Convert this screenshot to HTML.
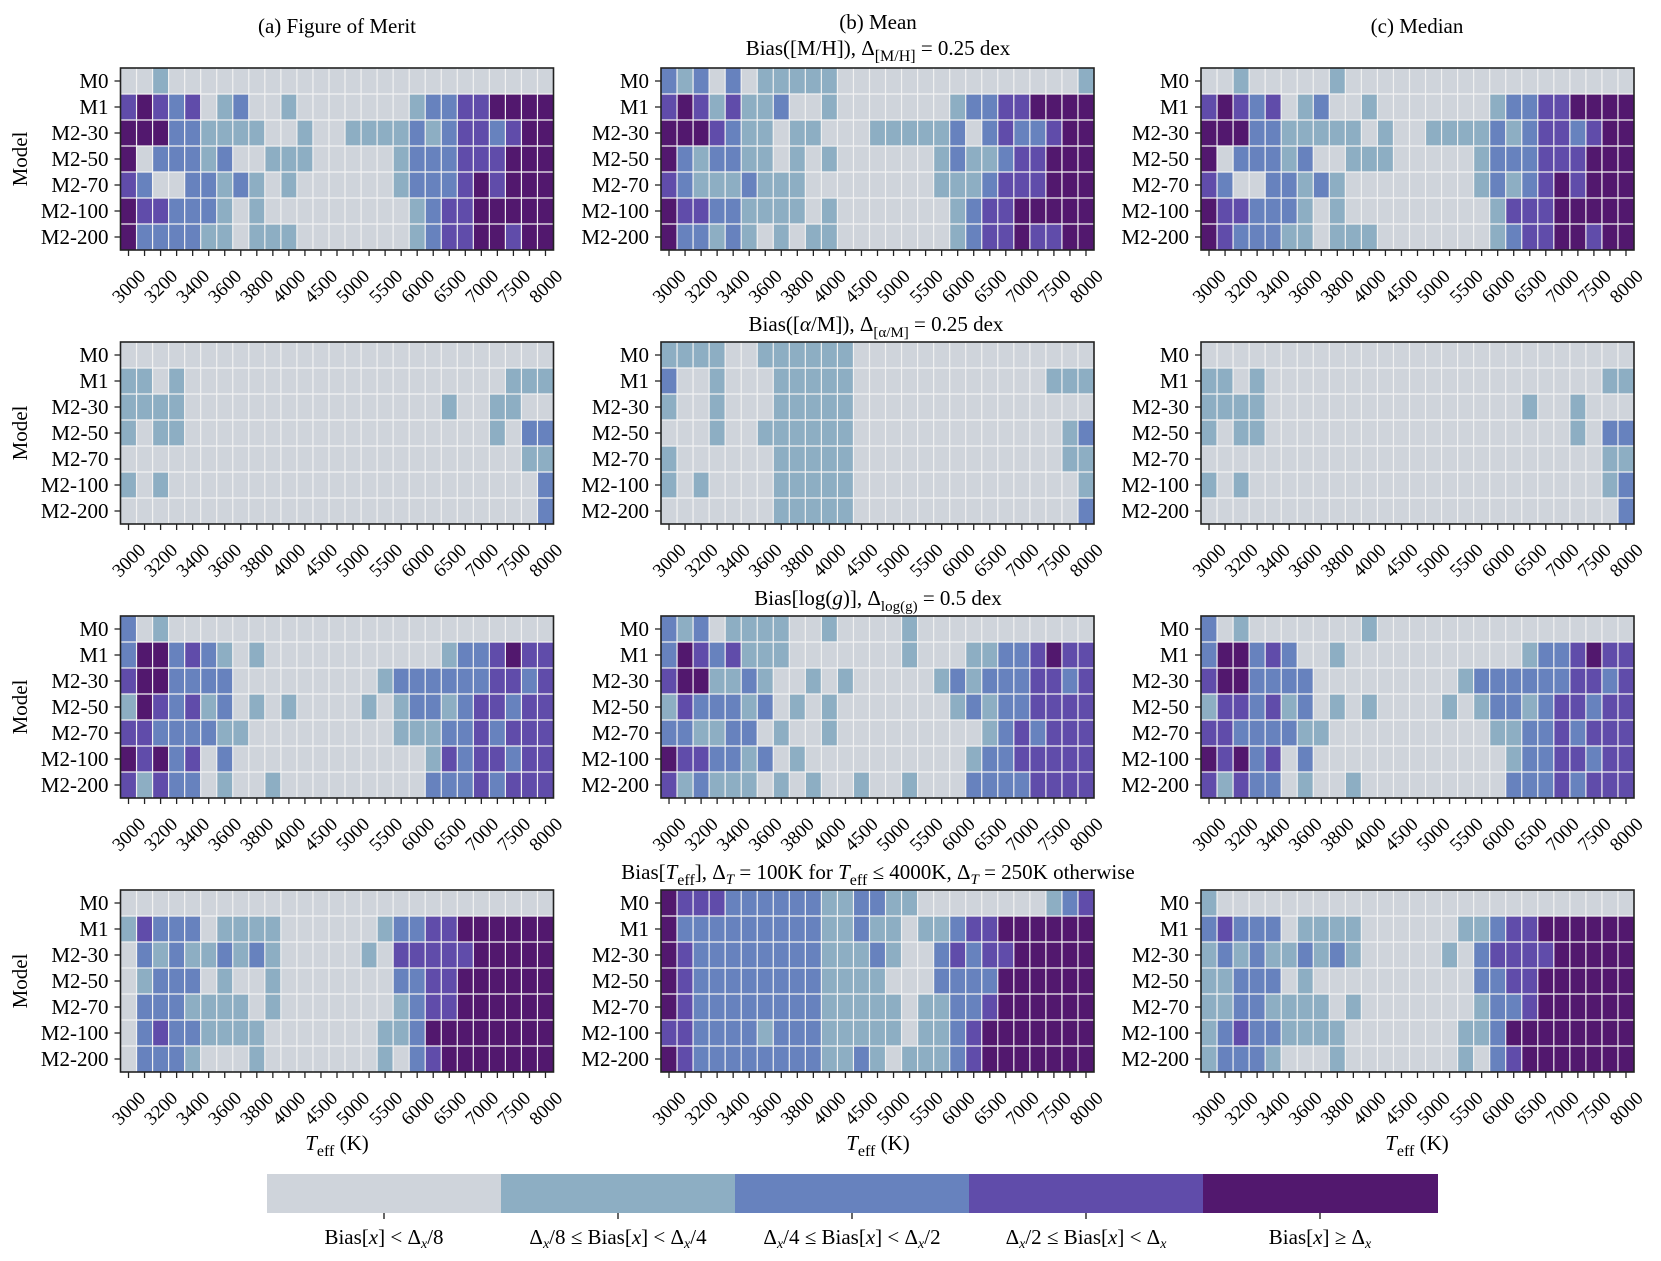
<!DOCTYPE html>
<html><head><meta charset="utf-8"><style>
html,body{margin:0;padding:0;background:#fff}
svg{display:block;font-family:"Liberation Serif",serif;}
.yl{font-size:21px;text-anchor:end}
.xl{font-size:19px;text-anchor:middle}
.ti{font-size:21px;text-anchor:middle}
</style></head><body>
<svg id="s" width="1661" height="1261" viewBox="0 0 1661 1261" xmlns="http://www.w3.org/2000/svg">
<g id="cells"></g>

<!-- titles -->
<text class="ti" x="337" y="33">(a) Figure of Merit</text>
<text class="ti" x="878" y="29">(b) Mean</text>
<text class="ti" x="1417" y="33">(c) Median</text>
<text class="ti" x="878" y="55">Bias([M/H]), Δ<tspan font-size="16" dy="6">[M/H]</tspan><tspan dy="-6"> = 0.25 dex</tspan></text>
<text class="ti" x="876" y="331">Bias([<tspan font-style="italic">α</tspan>/M]), Δ<tspan font-size="15" dy="6">[α/M]</tspan><tspan dy="-6"> = 0.25 dex</tspan></text>
<text class="ti" x="878" y="605">Bias[log(<tspan font-style="italic">g</tspan>)], Δ<tspan font-size="15" dy="6">log(g)</tspan><tspan dy="-6"> = 0.5 dex</tspan></text>
<text class="ti" x="878" y="879">Bias[<tspan font-style="italic">T</tspan><tspan font-size="16" dy="6">eff</tspan><tspan dy="-6">], Δ</tspan><tspan font-size="15" dy="5" font-style="italic">T</tspan><tspan dy="-5"> = 100K for </tspan><tspan font-style="italic">T</tspan><tspan font-size="16" dy="6">eff</tspan><tspan dy="-6"> ≤ 4000K, Δ</tspan><tspan font-size="15" dy="5" font-style="italic">T</tspan><tspan dy="-5"> = 250K otherwise</tspan></text>

<!-- Model labels -->
<text class="ti" transform="translate(27,159) rotate(-90)">Model</text>
<text class="ti" transform="translate(27,433) rotate(-90)">Model</text>
<text class="ti" transform="translate(27,707) rotate(-90)">Model</text>
<text class="ti" transform="translate(27,981) rotate(-90)">Model</text>

<!-- x axis labels -->
<text class="ti" x="337" y="1150"><tspan font-style="italic">T</tspan><tspan font-size="16" dy="6">eff</tspan><tspan dy="-6"> (K)</tspan></text>
<text class="ti" x="878" y="1150"><tspan font-style="italic">T</tspan><tspan font-size="16" dy="6">eff</tspan><tspan dy="-6"> (K)</tspan></text>
<text class="ti" x="1417" y="1150"><tspan font-style="italic">T</tspan><tspan font-size="16" dy="6">eff</tspan><tspan dy="-6"> (K)</tspan></text>

<!-- panel label groups -->
<g id="lab"></g>

<!-- colorbar -->
<rect x="267" y="1174" width="234" height="39" fill="#cfd4db"/>
<rect x="501" y="1174" width="234" height="39" fill="#8daec3"/>
<rect x="735" y="1174" width="234" height="39" fill="#6782be"/>
<rect x="969" y="1174" width="234" height="39" fill="#604caa"/>
<rect x="1203" y="1174" width="235" height="39" fill="#52186e"/>
<g stroke="#000" stroke-width="1.2">
<line x1="384" y1="1213" x2="384" y2="1219"/><line x1="618" y1="1213" x2="618" y2="1219"/><line x1="852" y1="1213" x2="852" y2="1219"/><line x1="1086" y1="1213" x2="1086" y2="1219"/><line x1="1320" y1="1213" x2="1320" y2="1219"/>
</g>
<g class="ti" font-size="20">
<text class="ti" x="384" y="1244">Bias[<tspan font-style="italic">x</tspan>] &lt; Δ<tspan font-size="14" dy="4" font-style="italic">x</tspan><tspan dy="-4">/8</tspan></text>
<text class="ti" x="618" y="1244">Δ<tspan font-size="14" dy="4" font-style="italic">x</tspan><tspan dy="-4">/8 ≤ Bias[</tspan><tspan font-style="italic">x</tspan>] &lt; Δ<tspan font-size="14" dy="4" font-style="italic">x</tspan><tspan dy="-4">/4</tspan></text>
<text class="ti" x="852" y="1244">Δ<tspan font-size="14" dy="4" font-style="italic">x</tspan><tspan dy="-4">/4 ≤ Bias[</tspan><tspan font-style="italic">x</tspan>] &lt; Δ<tspan font-size="14" dy="4" font-style="italic">x</tspan><tspan dy="-4">/2</tspan></text>
<text class="ti" x="1086" y="1244">Δ<tspan font-size="14" dy="4" font-style="italic">x</tspan><tspan dy="-4">/2 ≤ Bias[</tspan><tspan font-style="italic">x</tspan>] &lt; Δ<tspan font-size="14" dy="4" font-style="italic">x</tspan></text>
<text class="ti" x="1320" y="1244">Bias[<tspan font-style="italic">x</tspan>] ≥ Δ<tspan font-size="14" dy="4" font-style="italic">x</tspan></text>
</g>

<!-- Static tick/row labels for each panel -->
<g transform="translate(120.5,68)"><g class="yl"><text x="-12" y="20">M0</text><text x="-12" y="46">M1</text><text x="-12" y="72">M2-30</text><text x="-12" y="98">M2-50</text><text x="-12" y="124">M2-70</text><text x="-12" y="150">M2-100</text><text x="-12" y="176">M2-200</text></g><g class="xl"><text transform="translate(8,218) rotate(-45)" dy="0.35em">3000</text><text transform="translate(40,218) rotate(-45)" dy="0.35em">3200</text><text transform="translate(72,218) rotate(-45)" dy="0.35em">3400</text><text transform="translate(104,218) rotate(-45)" dy="0.35em">3600</text><text transform="translate(136,218) rotate(-45)" dy="0.35em">3800</text><text transform="translate(168,218) rotate(-45)" dy="0.35em">4000</text><text transform="translate(200,218) rotate(-45)" dy="0.35em">4500</text><text transform="translate(232,218) rotate(-45)" dy="0.35em">5000</text><text transform="translate(265,218) rotate(-45)" dy="0.35em">5500</text><text transform="translate(297,218) rotate(-45)" dy="0.35em">6000</text><text transform="translate(329,218) rotate(-45)" dy="0.35em">6500</text><text transform="translate(361,218) rotate(-45)" dy="0.35em">7000</text><text transform="translate(393,218) rotate(-45)" dy="0.35em">7500</text><text transform="translate(425,218) rotate(-45)" dy="0.35em">8000</text></g></g>
<g transform="translate(661,68)"><g class="yl"><text x="-12" y="20">M0</text><text x="-12" y="46">M1</text><text x="-12" y="72">M2-30</text><text x="-12" y="98">M2-50</text><text x="-12" y="124">M2-70</text><text x="-12" y="150">M2-100</text><text x="-12" y="176">M2-200</text></g><g class="xl"><text transform="translate(8,218) rotate(-45)" dy="0.35em">3000</text><text transform="translate(40,218) rotate(-45)" dy="0.35em">3200</text><text transform="translate(72,218) rotate(-45)" dy="0.35em">3400</text><text transform="translate(104,218) rotate(-45)" dy="0.35em">3600</text><text transform="translate(136,218) rotate(-45)" dy="0.35em">3800</text><text transform="translate(168,218) rotate(-45)" dy="0.35em">4000</text><text transform="translate(200,218) rotate(-45)" dy="0.35em">4500</text><text transform="translate(232,218) rotate(-45)" dy="0.35em">5000</text><text transform="translate(265,218) rotate(-45)" dy="0.35em">5500</text><text transform="translate(297,218) rotate(-45)" dy="0.35em">6000</text><text transform="translate(329,218) rotate(-45)" dy="0.35em">6500</text><text transform="translate(361,218) rotate(-45)" dy="0.35em">7000</text><text transform="translate(393,218) rotate(-45)" dy="0.35em">7500</text><text transform="translate(425,218) rotate(-45)" dy="0.35em">8000</text></g></g>
<g transform="translate(1201,68)"><g class="yl"><text x="-12" y="20">M0</text><text x="-12" y="46">M1</text><text x="-12" y="72">M2-30</text><text x="-12" y="98">M2-50</text><text x="-12" y="124">M2-70</text><text x="-12" y="150">M2-100</text><text x="-12" y="176">M2-200</text></g><g class="xl"><text transform="translate(8,218) rotate(-45)" dy="0.35em">3000</text><text transform="translate(40,218) rotate(-45)" dy="0.35em">3200</text><text transform="translate(72,218) rotate(-45)" dy="0.35em">3400</text><text transform="translate(104,218) rotate(-45)" dy="0.35em">3600</text><text transform="translate(136,218) rotate(-45)" dy="0.35em">3800</text><text transform="translate(168,218) rotate(-45)" dy="0.35em">4000</text><text transform="translate(200,218) rotate(-45)" dy="0.35em">4500</text><text transform="translate(232,218) rotate(-45)" dy="0.35em">5000</text><text transform="translate(265,218) rotate(-45)" dy="0.35em">5500</text><text transform="translate(297,218) rotate(-45)" dy="0.35em">6000</text><text transform="translate(329,218) rotate(-45)" dy="0.35em">6500</text><text transform="translate(361,218) rotate(-45)" dy="0.35em">7000</text><text transform="translate(393,218) rotate(-45)" dy="0.35em">7500</text><text transform="translate(425,218) rotate(-45)" dy="0.35em">8000</text></g></g>

<g transform="translate(120.5,342)"><g class="yl"><text x="-12" y="20">M0</text><text x="-12" y="46">M1</text><text x="-12" y="72">M2-30</text><text x="-12" y="98">M2-50</text><text x="-12" y="124">M2-70</text><text x="-12" y="150">M2-100</text><text x="-12" y="176">M2-200</text></g><g class="xl"><text transform="translate(8,218) rotate(-45)" dy="0.35em">3000</text><text transform="translate(40,218) rotate(-45)" dy="0.35em">3200</text><text transform="translate(72,218) rotate(-45)" dy="0.35em">3400</text><text transform="translate(104,218) rotate(-45)" dy="0.35em">3600</text><text transform="translate(136,218) rotate(-45)" dy="0.35em">3800</text><text transform="translate(168,218) rotate(-45)" dy="0.35em">4000</text><text transform="translate(200,218) rotate(-45)" dy="0.35em">4500</text><text transform="translate(232,218) rotate(-45)" dy="0.35em">5000</text><text transform="translate(265,218) rotate(-45)" dy="0.35em">5500</text><text transform="translate(297,218) rotate(-45)" dy="0.35em">6000</text><text transform="translate(329,218) rotate(-45)" dy="0.35em">6500</text><text transform="translate(361,218) rotate(-45)" dy="0.35em">7000</text><text transform="translate(393,218) rotate(-45)" dy="0.35em">7500</text><text transform="translate(425,218) rotate(-45)" dy="0.35em">8000</text></g></g>
<g transform="translate(661,342)"><g class="yl"><text x="-12" y="20">M0</text><text x="-12" y="46">M1</text><text x="-12" y="72">M2-30</text><text x="-12" y="98">M2-50</text><text x="-12" y="124">M2-70</text><text x="-12" y="150">M2-100</text><text x="-12" y="176">M2-200</text></g><g class="xl"><text transform="translate(8,218) rotate(-45)" dy="0.35em">3000</text><text transform="translate(40,218) rotate(-45)" dy="0.35em">3200</text><text transform="translate(72,218) rotate(-45)" dy="0.35em">3400</text><text transform="translate(104,218) rotate(-45)" dy="0.35em">3600</text><text transform="translate(136,218) rotate(-45)" dy="0.35em">3800</text><text transform="translate(168,218) rotate(-45)" dy="0.35em">4000</text><text transform="translate(200,218) rotate(-45)" dy="0.35em">4500</text><text transform="translate(232,218) rotate(-45)" dy="0.35em">5000</text><text transform="translate(265,218) rotate(-45)" dy="0.35em">5500</text><text transform="translate(297,218) rotate(-45)" dy="0.35em">6000</text><text transform="translate(329,218) rotate(-45)" dy="0.35em">6500</text><text transform="translate(361,218) rotate(-45)" dy="0.35em">7000</text><text transform="translate(393,218) rotate(-45)" dy="0.35em">7500</text><text transform="translate(425,218) rotate(-45)" dy="0.35em">8000</text></g></g>
<g transform="translate(1201,342)"><g class="yl"><text x="-12" y="20">M0</text><text x="-12" y="46">M1</text><text x="-12" y="72">M2-30</text><text x="-12" y="98">M2-50</text><text x="-12" y="124">M2-70</text><text x="-12" y="150">M2-100</text><text x="-12" y="176">M2-200</text></g><g class="xl"><text transform="translate(8,218) rotate(-45)" dy="0.35em">3000</text><text transform="translate(40,218) rotate(-45)" dy="0.35em">3200</text><text transform="translate(72,218) rotate(-45)" dy="0.35em">3400</text><text transform="translate(104,218) rotate(-45)" dy="0.35em">3600</text><text transform="translate(136,218) rotate(-45)" dy="0.35em">3800</text><text transform="translate(168,218) rotate(-45)" dy="0.35em">4000</text><text transform="translate(200,218) rotate(-45)" dy="0.35em">4500</text><text transform="translate(232,218) rotate(-45)" dy="0.35em">5000</text><text transform="translate(265,218) rotate(-45)" dy="0.35em">5500</text><text transform="translate(297,218) rotate(-45)" dy="0.35em">6000</text><text transform="translate(329,218) rotate(-45)" dy="0.35em">6500</text><text transform="translate(361,218) rotate(-45)" dy="0.35em">7000</text><text transform="translate(393,218) rotate(-45)" dy="0.35em">7500</text><text transform="translate(425,218) rotate(-45)" dy="0.35em">8000</text></g></g>

<g transform="translate(120.5,616)"><g class="yl"><text x="-12" y="20">M0</text><text x="-12" y="46">M1</text><text x="-12" y="72">M2-30</text><text x="-12" y="98">M2-50</text><text x="-12" y="124">M2-70</text><text x="-12" y="150">M2-100</text><text x="-12" y="176">M2-200</text></g><g class="xl"><text transform="translate(8,218) rotate(-45)" dy="0.35em">3000</text><text transform="translate(40,218) rotate(-45)" dy="0.35em">3200</text><text transform="translate(72,218) rotate(-45)" dy="0.35em">3400</text><text transform="translate(104,218) rotate(-45)" dy="0.35em">3600</text><text transform="translate(136,218) rotate(-45)" dy="0.35em">3800</text><text transform="translate(168,218) rotate(-45)" dy="0.35em">4000</text><text transform="translate(200,218) rotate(-45)" dy="0.35em">4500</text><text transform="translate(232,218) rotate(-45)" dy="0.35em">5000</text><text transform="translate(265,218) rotate(-45)" dy="0.35em">5500</text><text transform="translate(297,218) rotate(-45)" dy="0.35em">6000</text><text transform="translate(329,218) rotate(-45)" dy="0.35em">6500</text><text transform="translate(361,218) rotate(-45)" dy="0.35em">7000</text><text transform="translate(393,218) rotate(-45)" dy="0.35em">7500</text><text transform="translate(425,218) rotate(-45)" dy="0.35em">8000</text></g></g>
<g transform="translate(661,616)"><g class="yl"><text x="-12" y="20">M0</text><text x="-12" y="46">M1</text><text x="-12" y="72">M2-30</text><text x="-12" y="98">M2-50</text><text x="-12" y="124">M2-70</text><text x="-12" y="150">M2-100</text><text x="-12" y="176">M2-200</text></g><g class="xl"><text transform="translate(8,218) rotate(-45)" dy="0.35em">3000</text><text transform="translate(40,218) rotate(-45)" dy="0.35em">3200</text><text transform="translate(72,218) rotate(-45)" dy="0.35em">3400</text><text transform="translate(104,218) rotate(-45)" dy="0.35em">3600</text><text transform="translate(136,218) rotate(-45)" dy="0.35em">3800</text><text transform="translate(168,218) rotate(-45)" dy="0.35em">4000</text><text transform="translate(200,218) rotate(-45)" dy="0.35em">4500</text><text transform="translate(232,218) rotate(-45)" dy="0.35em">5000</text><text transform="translate(265,218) rotate(-45)" dy="0.35em">5500</text><text transform="translate(297,218) rotate(-45)" dy="0.35em">6000</text><text transform="translate(329,218) rotate(-45)" dy="0.35em">6500</text><text transform="translate(361,218) rotate(-45)" dy="0.35em">7000</text><text transform="translate(393,218) rotate(-45)" dy="0.35em">7500</text><text transform="translate(425,218) rotate(-45)" dy="0.35em">8000</text></g></g>
<g transform="translate(1201,616)"><g class="yl"><text x="-12" y="20">M0</text><text x="-12" y="46">M1</text><text x="-12" y="72">M2-30</text><text x="-12" y="98">M2-50</text><text x="-12" y="124">M2-70</text><text x="-12" y="150">M2-100</text><text x="-12" y="176">M2-200</text></g><g class="xl"><text transform="translate(8,218) rotate(-45)" dy="0.35em">3000</text><text transform="translate(40,218) rotate(-45)" dy="0.35em">3200</text><text transform="translate(72,218) rotate(-45)" dy="0.35em">3400</text><text transform="translate(104,218) rotate(-45)" dy="0.35em">3600</text><text transform="translate(136,218) rotate(-45)" dy="0.35em">3800</text><text transform="translate(168,218) rotate(-45)" dy="0.35em">4000</text><text transform="translate(200,218) rotate(-45)" dy="0.35em">4500</text><text transform="translate(232,218) rotate(-45)" dy="0.35em">5000</text><text transform="translate(265,218) rotate(-45)" dy="0.35em">5500</text><text transform="translate(297,218) rotate(-45)" dy="0.35em">6000</text><text transform="translate(329,218) rotate(-45)" dy="0.35em">6500</text><text transform="translate(361,218) rotate(-45)" dy="0.35em">7000</text><text transform="translate(393,218) rotate(-45)" dy="0.35em">7500</text><text transform="translate(425,218) rotate(-45)" dy="0.35em">8000</text></g></g>

<g transform="translate(120.5,890)"><g class="yl"><text x="-12" y="20">M0</text><text x="-12" y="46">M1</text><text x="-12" y="72">M2-30</text><text x="-12" y="98">M2-50</text><text x="-12" y="124">M2-70</text><text x="-12" y="150">M2-100</text><text x="-12" y="176">M2-200</text></g><g class="xl"><text transform="translate(8,218) rotate(-45)" dy="0.35em">3000</text><text transform="translate(40,218) rotate(-45)" dy="0.35em">3200</text><text transform="translate(72,218) rotate(-45)" dy="0.35em">3400</text><text transform="translate(104,218) rotate(-45)" dy="0.35em">3600</text><text transform="translate(136,218) rotate(-45)" dy="0.35em">3800</text><text transform="translate(168,218) rotate(-45)" dy="0.35em">4000</text><text transform="translate(200,218) rotate(-45)" dy="0.35em">4500</text><text transform="translate(232,218) rotate(-45)" dy="0.35em">5000</text><text transform="translate(265,218) rotate(-45)" dy="0.35em">5500</text><text transform="translate(297,218) rotate(-45)" dy="0.35em">6000</text><text transform="translate(329,218) rotate(-45)" dy="0.35em">6500</text><text transform="translate(361,218) rotate(-45)" dy="0.35em">7000</text><text transform="translate(393,218) rotate(-45)" dy="0.35em">7500</text><text transform="translate(425,218) rotate(-45)" dy="0.35em">8000</text></g></g>
<g transform="translate(661,890)"><g class="yl"><text x="-12" y="20">M0</text><text x="-12" y="46">M1</text><text x="-12" y="72">M2-30</text><text x="-12" y="98">M2-50</text><text x="-12" y="124">M2-70</text><text x="-12" y="150">M2-100</text><text x="-12" y="176">M2-200</text></g><g class="xl"><text transform="translate(8,218) rotate(-45)" dy="0.35em">3000</text><text transform="translate(40,218) rotate(-45)" dy="0.35em">3200</text><text transform="translate(72,218) rotate(-45)" dy="0.35em">3400</text><text transform="translate(104,218) rotate(-45)" dy="0.35em">3600</text><text transform="translate(136,218) rotate(-45)" dy="0.35em">3800</text><text transform="translate(168,218) rotate(-45)" dy="0.35em">4000</text><text transform="translate(200,218) rotate(-45)" dy="0.35em">4500</text><text transform="translate(232,218) rotate(-45)" dy="0.35em">5000</text><text transform="translate(265,218) rotate(-45)" dy="0.35em">5500</text><text transform="translate(297,218) rotate(-45)" dy="0.35em">6000</text><text transform="translate(329,218) rotate(-45)" dy="0.35em">6500</text><text transform="translate(361,218) rotate(-45)" dy="0.35em">7000</text><text transform="translate(393,218) rotate(-45)" dy="0.35em">7500</text><text transform="translate(425,218) rotate(-45)" dy="0.35em">8000</text></g></g>
<g transform="translate(1201,890)"><g class="yl"><text x="-12" y="20">M0</text><text x="-12" y="46">M1</text><text x="-12" y="72">M2-30</text><text x="-12" y="98">M2-50</text><text x="-12" y="124">M2-70</text><text x="-12" y="150">M2-100</text><text x="-12" y="176">M2-200</text></g><g class="xl"><text transform="translate(8,218) rotate(-45)" dy="0.35em">3000</text><text transform="translate(40,218) rotate(-45)" dy="0.35em">3200</text><text transform="translate(72,218) rotate(-45)" dy="0.35em">3400</text><text transform="translate(104,218) rotate(-45)" dy="0.35em">3600</text><text transform="translate(136,218) rotate(-45)" dy="0.35em">3800</text><text transform="translate(168,218) rotate(-45)" dy="0.35em">4000</text><text transform="translate(200,218) rotate(-45)" dy="0.35em">4500</text><text transform="translate(232,218) rotate(-45)" dy="0.35em">5000</text><text transform="translate(265,218) rotate(-45)" dy="0.35em">5500</text><text transform="translate(297,218) rotate(-45)" dy="0.35em">6000</text><text transform="translate(329,218) rotate(-45)" dy="0.35em">6500</text><text transform="translate(361,218) rotate(-45)" dy="0.35em">7000</text><text transform="translate(393,218) rotate(-45)" dy="0.35em">7500</text><text transform="translate(425,218) rotate(-45)" dy="0.35em">8000</text></g></g>
</svg>
<script>
var C=["#cfd4db","#8daec3","#6782be","#604caa","#52186e"];
var X=[120.5,661,1201],Y=[68,342,616,890];
var D=[
[ // row 1
["0010000000"+"0000000000"+"0000000","3432301200"+"1000000012"+"2334444","4442211110"+"0100111121"+"2332344","4022212001"+"1100000122"+"2333444","3200221210"+"1000000122"+"2343444","4332221010"+"0000000012"+"3344444","4222211011"+"1000000012"+"3344344"],
["2120201111"+"1000000000"+"0000001","3431311200"+"1000000012"+"2334444","4443211011"+"0001111120"+"2322344","4212211010"+"1000000121"+"1233444","3211121110"+"0000000111"+"2333444","4332211110"+"1000000012"+"3344444","4221210101"+"1000000012"+"3343344"],
["0010000010"+"0000000000"+"0000000","3432301200"+"1000000012"+"2334444","4442211111"+"0100111121"+"2332344","4022212001"+"1100000122"+"2333444","3200221210"+"0000000121"+"2343444","4332221010"+"0000000013"+"3344444","4322211011"+"1000000012"+"3344344"]],
[ // row 2
["0000000000"+"0000000000"+"0000000","1101000000"+"0000000000"+"0000111","1111000000"+"0000000000"+"1001100","1011000000"+"0000000000"+"0001022","0000000000"+"0000000000"+"0000011","1010000000"+"0000000000"+"0000002","0000000000"+"0000000000"+"0000002"],
["1111001111"+"1100000000"+"0000000","2001000111"+"1100000000"+"0000111","1001000111"+"1100000000"+"0000000","0001001111"+"1100000000"+"0000012","1000000111"+"1100000000"+"0000011","1010000111"+"1100000000"+"0000001","0000000111"+"1100000000"+"0000002"],
["0000000000"+"0000000000"+"0000000","1101000000"+"0000000000"+"0000011","1111000000"+"0000000000"+"1001000","1011000000"+"0000000000"+"0001022","0000000000"+"0000000000"+"0000011","1010000000"+"0000000000"+"0000012","0000000000"+"0000000000"+"0000002"]],
[ // row 3
["2010000000"+"0000000000"+"0000000","2442321010"+"0000000000"+"1223433","3442222000"+"0000001222"+"2223323","1432312010"+"1000010122"+"1233233","3322221100"+"0000000111"+"2232333","4342302000"+"0000000001"+"3233233","3132201001"+"0000000002"+"2232333"],
["2120111100"+"1000010000"+"0000000","2432311100"+"0000010001"+"1223433","3441121001"+"0100000121"+"2223323","1322212010"+"1000000012"+"1223333","2211220100"+"1000000000"+"1232333","4332212010"+"0000000001"+"2233333","3121110101"+"0010010002"+"2223333"],
["2010000000"+"1000000000"+"0000000","2442320010"+"0000000000"+"1223433","3442222000"+"0000001222"+"2223323","1332312010"+"1000010122"+"1233233","3322221100"+"0000000011"+"2232333","4342302000"+"0000000001"+"2233233","3132201001"+"0000000002"+"2232333"]],
[ // row 4
["0000000000"+"0000000000"+"0000000","1322201111"+"0000001223"+"3444444","0212112121"+"0000010333"+"3344444","0122201001"+"0000000223"+"3444444","0222111101"+"0000000123"+"3444444","0232211110"+"0000001124"+"4444444","0222100010"+"0000001023"+"4444444"],
["4333222222"+"1122110000"+"0000123","4222222222"+"1121101123"+"3444444","4322222222"+"1112100232"+"3344444","4322222222"+"1111000222"+"2444444","4322222222"+"1111101122"+"3444444","3322221222"+"1111101123"+"4444444","4322222222"+"1121011123"+"4444444"],
["1000000000"+"0000000000"+"0000000","2322201111"+"0000001123"+"3444444","1212112121"+"0000010233"+"3344444","1122201000"+"0000000223"+"3444444","1122111101"+"0000000122"+"3444444","1232211110"+"0000001124"+"4444444","1222100010"+"0000001023"+"4444444"]]
];
var ns="http://www.w3.org/2000/svg",g=document.getElementById("cells");
function el(t,a){var e=document.createElementNS(ns,t);for(var k in a)e.setAttribute(k,a[k]);g.appendChild(e);return e;}
var W=433,H=182,cw=W/27,rh=H/7;
for(var r=0;r<4;r++)for(var p=0;p<3;p++){
 var x0=X[p],y0=Y[r],d=D[r][p];
 for(var i=0;i<7;i++)for(var j=0;j<27;j++){
  var v=+(d[i][j]||0);
  el("rect",{x:x0+j*cw,y:y0+i*rh,width:cw+0.3,height:rh+0.3,fill:C[v]});
 }
 for(var j=1;j<27;j++)el("line",{x1:x0+j*cw,y1:y0,x2:x0+j*cw,y2:y0+H,stroke:"#f2f2f2","stroke-width":1.2});
 for(var i=1;i<7;i++)el("line",{x1:x0,y1:y0+i*rh,x2:x0+W,y2:y0+i*rh,stroke:"#f2f2f2","stroke-width":1.2});
 el("rect",{x:x0,y:y0,width:W,height:H,fill:"none",stroke:"#222","stroke-width":1.6});
 for(var i=0;i<7;i++)el("line",{x1:x0-6,y1:y0+(i+0.5)*rh,x2:x0,y2:y0+(i+0.5)*rh,stroke:"#222","stroke-width":1.3});
 for(var j=0;j<27;j++)el("line",{x1:x0+(j+0.5)*cw,y1:y0+H,x2:x0+(j+0.5)*cw,y2:y0+H+6,stroke:"#222","stroke-width":1.3});
}
</script>
</body></html>
